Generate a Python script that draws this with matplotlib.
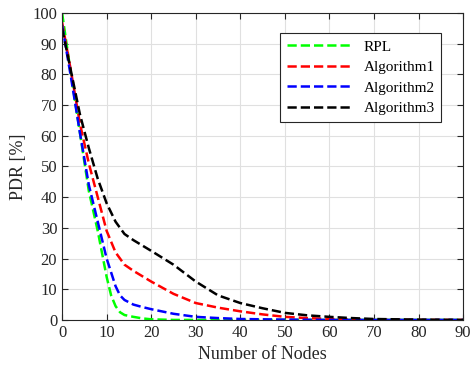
import numpy as np
import matplotlib.pyplot as plt

# Datos
x_rpl = [0, 2, 4, 6, 8, 10, 11, 12, 13, 14, 16, 18, 20, 25, 30, 40, 50, 60, 70, 80, 90]
rpl = [100, 80, 61, 42, 29, 14, 8, 4.5, 2.5, 1.6, 1, 0.5, 0.2, 0, 0, 0, 0, 0, 0, 0, 0]

x_a2 = [0, 2, 4, 6, 8, 10, 12, 13, 14, 16, 18, 20, 25, 30, 35, 40, 50, 60, 70, 80, 90]
alg2 = [96, 79, 61, 44, 32, 20, 11, 8, 6.5, 5, 4.2, 3.5, 2, 1, 0.6, 0.3, 0.1, 0, 0, 0, 0]

x_a1 = [0, 2, 4, 6, 8, 10, 12, 14, 16, 20, 25, 30, 35, 40, 45, 50, 55, 60, 70, 80, 90]
alg1 = [97, 81, 64, 51, 40, 29, 22, 18, 16, 12.5, 8.5, 5.5, 4, 2.8, 1.8, 1, 0.6, 0.3, 0.1, 0, 0]

x_a3 = [0, 2, 4, 6, 8, 10, 12, 14, 16, 20, 25, 30, 35, 40, 45, 50, 55, 60, 65, 70, 80, 90]
alg3 = [95, 81, 67, 56, 46, 38, 32, 28, 26, 22.5, 18, 12.5, 8, 5.5, 3.8, 2.3, 1.5, 1, 0.6, 0.3, 0.1, 0]

plt.rcParams['font.family'] = ['Liberation Serif', 'DejaVu Serif']

fig = plt.figure(figsize=(4.74, 3.72), dpi=100)
ax = fig.add_axes([0.131, 0.140, 0.846, 0.825])

lw = 1.8
ax.plot(x_rpl, rpl, '--', color='#00ff00', lw=lw, label='RPL')
ax.plot(x_a1, alg1, '--', color='#ff0000', lw=lw, label='Algorithm1')
ax.plot(x_a2, alg2, '--', color='#0000ff', lw=lw, label='Algorithm2')
ax.plot(x_a3, alg3, '--', color='#000000', lw=lw, label='Algorithm3')

ax.set_xlim(0, 90)
ax.set_ylim(0, 100)
ax.set_xticks(np.arange(0, 91, 10))
ax.set_yticks(np.arange(0, 101, 10))
ax.grid(True, color='#e0e0e0', lw=0.8)
ax.set_axisbelow(True)
ax.tick_params(direction='in', top=True, right=True, labelsize=12,
               colors='#262626', length=4)
for s in ax.spines.values():
    s.set_color('#262626')
    s.set_linewidth(0.8)

ax.set_xlabel('Number of Nodes', fontsize=13, color='#262626')
ax.set_ylabel('PDR [%]', fontsize=13, color='#262626')

leg = ax.legend(loc='upper right', bbox_to_anchor=(0.965, 0.96), fontsize=11,
                handlelength=4.2, fancybox=False, framealpha=1,
                edgecolor='#262626', borderpad=0.45, labelspacing=0.45)
leg.get_frame().set_linewidth(0.8)

plt.savefig('out.png', dpi=100)
